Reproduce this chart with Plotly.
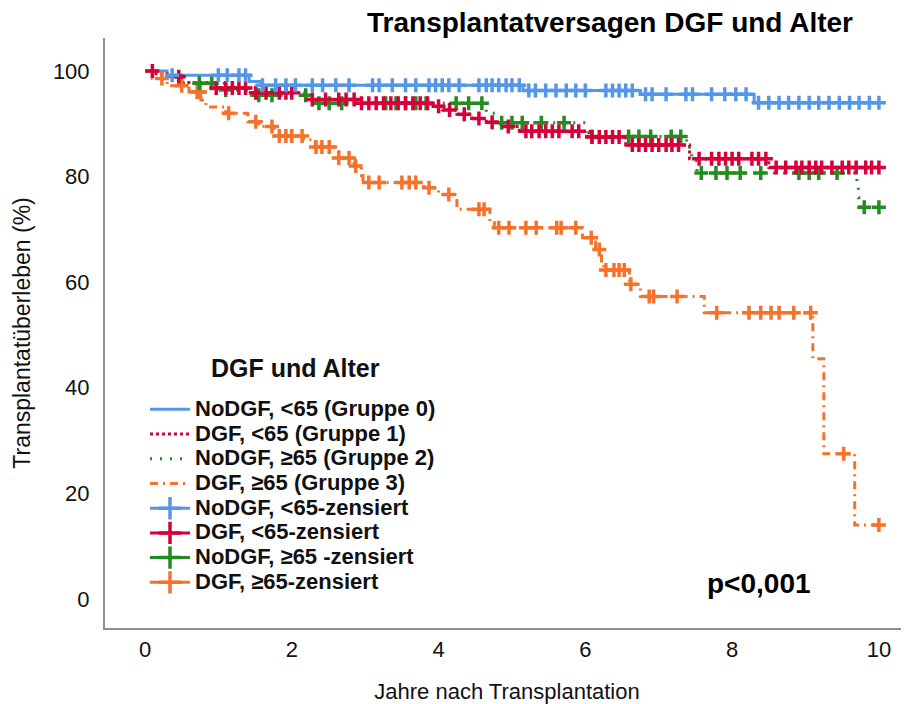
import numpy as np
import plotly.graph_objects as go

# Kaplan-Meier steps: time of event (years) and survival after it (%)
g0_time = [0, 0.3, 1.42, 1.58, 5.15, 6.75, 8.3]
g0_surv = [100, 99.2, 98.0, 97.3, 96.3, 95.6, 94.0]

g1_time = [0, 0.15, 0.3, 0.5, 0.97, 1.42, 2.19, 2.87, 3.9, 4.05, 4.25, 4.45,
           4.65, 4.85, 5.1, 6.05, 6.55, 7.42, 8.5]
g1_surv = [100, 99.5, 98.9, 97.8, 96.8, 95.9, 94.6, 93.9, 93.3, 92.6, 91.8, 91.0,
           90.3, 89.5, 88.6, 87.5, 86.0, 83.4, 81.7]

g2_time = [0, 0.2, 0.5, 1.1, 1.45, 2.33, 4.65, 4.78, 6.0, 7.38, 7.45, 7.52,
           9.7, 9.72, 9.75]
g2_surv = [100, 99.2, 97.7, 96.4, 95.4, 93.9, 92.0, 90.2, 87.6, 85.5, 83.0, 80.7,
           78.5, 76.0, 74.2]

g3_time = [0, 0.1, 0.3, 0.6, 0.76, 0.83, 1.1, 1.4, 1.55, 1.76, 2.16, 2.32, 2.64,
           2.85, 2.95, 2.97, 3.8, 4.0, 4.25, 4.7, 4.76, 5.96, 6.14, 6.22, 6.25,
           6.6, 6.75, 7.62, 9.1, 9.25, 9.67]
g3_surv = [100, 98.6, 97.2, 96.0, 94.5, 93.2, 92.0, 90.4, 89.5, 87.7, 87.0, 85.6, 83.5,
           82.0, 80.2, 78.9, 77.9, 76.6, 73.8, 71.3, 70.3, 68.4, 66.2, 63.4, 62.3,
           59.6, 57.3, 54.2, 45.5, 27.5, 14.0]

# censored observations (years)
g0_cens = [0.37, 1.0, 1.12, 1.28, 1.37, 1.6, 1.78, 1.92, 2.05, 2.28, 2.42, 2.6, 2.78,
           3.1, 3.19, 3.37, 3.55, 3.69, 3.87, 3.96, 4.05, 4.14, 4.28, 4.55, 4.65,
           4.73, 4.82, 4.92, 5.0, 5.1, 5.23, 5.32, 5.46, 5.6, 5.74, 5.87, 6.0, 6.28,
           6.37, 6.46, 6.55, 6.64, 6.82, 6.91, 7.1, 7.37, 7.46, 7.72, 7.9, 8.05,
           8.19, 8.36, 8.5, 8.64, 8.77, 8.91, 9.05, 9.18, 9.32, 9.46, 9.6, 9.73,
           9.87, 10.0]
g1_cens = [0.1, 0.46, 0.97, 1.1, 1.19, 1.28, 1.37, 1.51, 1.65, 1.83, 1.92, 2.0, 2.28,
           2.46, 2.64, 2.74, 2.85, 2.95, 3.05, 3.15, 3.25, 3.35, 3.45, 3.55, 3.65,
           3.75, 3.85, 4.0, 4.15, 4.35, 4.55, 4.73, 4.95, 5.19, 5.27, 5.37, 5.46,
           5.55, 5.64, 5.82, 5.91, 6.09, 6.19, 6.28, 6.37, 6.46, 6.64, 6.73, 6.82,
           6.91, 7.0, 7.1, 7.18, 7.27, 7.55, 7.72, 7.82, 7.91, 8.0, 8.09, 8.27,
           8.36, 8.46, 8.6, 8.73, 8.87, 8.95, 9.05, 9.14, 9.22, 9.36, 9.5, 9.59,
           9.69, 9.82, 9.9, 10.0]
g2_cens = [0.74, 0.91, 1.1, 1.55, 1.73, 2.19, 2.37, 2.51, 2.68, 3.28, 3.42, 3.55, 3.69,
           3.83, 4.24, 4.41, 4.59, 4.86, 5.0, 5.14, 5.4, 5.71, 6.09, 6.59, 6.73,
           6.89, 7.17, 7.3, 7.58, 7.78, 7.93, 8.11, 8.39, 8.91, 9.05, 9.18, 9.43,
           9.8, 10.0]
g3_cens = [0.23, 0.5, 0.71, 0.73, 0.75, 1.14, 1.51, 1.73, 1.83, 1.92, 2.0, 2.14, 2.33,
           2.41, 2.51, 2.64, 2.78, 2.87, 3.05, 3.19, 3.5, 3.6, 3.69, 3.87, 4.14,
           4.55, 4.62, 4.82, 4.96, 5.19, 5.33, 5.61, 5.67, 5.87, 6.08, 6.19, 6.28,
           6.39, 6.46, 6.53, 6.62, 6.87, 6.93, 7.25, 7.79, 8.23, 8.39, 8.53, 8.64,
           8.84, 9.07, 9.52, 10.0]

group_names = ["NoDGF, &lt;65 (Gruppe 0)", "DGF, &lt;65 (Gruppe 1)",
               "NoDGF, ≥65 (Gruppe 2)", "DGF, ≥65 (Gruppe 3)"]
cens_names = ["NoDGF, &lt;65-zensiert", "DGF, &lt;65-zensiert",
              "NoDGF, ≥65 -zensiert", "DGF, ≥65-zensiert"]

colors = ["#5597E6", "#D7003A", "#238B22", "#F4722B"]
dashes = ["solid", "dot", "2px,8px", "8px,5px,2px,5px"]

groups = [(g0_time, g0_surv, g0_cens), (g1_time, g1_surv, g1_cens),
          (g2_time, g2_surv, g2_cens), (g3_time, g3_surv, g3_cens)]


def legend_label(text):
    return '<span style="font-size:22px">' + text + '</span>'


fig = go.Figure()

# step curves
for (t, s, c), name, col, dash in zip(groups, group_names, colors, dashes):
    x = list(t) + [max(c)]
    y = list(s) + [s[-1]]
    fig.add_trace(go.Scatter(
        x=x, y=y, mode="lines", line_shape="hv",
        line=dict(color=col, width=3, dash=dash),
        name=legend_label(name), hoverinfo="skip"
    ))

# censoring marks, drawn on the curve
for (t, s, c), col in reversed(list(zip(groups, colors))):
    idx = np.searchsorted(np.array(t), np.array(c), side="right") - 1
    fig.add_trace(go.Scatter(
        x=c, y=np.array(s)[idx], mode="markers",
        marker=dict(symbol="cross-thin", size=10, line=dict(color=col, width=3.5)),
        showlegend=False
    ))

# legend entries for the censoring marks
for name, col in zip(cens_names, colors):
    fig.add_trace(go.Scatter(
        x=[None], y=[None], mode="lines+markers",
        line=dict(color=col, width=3),
        marker=dict(symbol="cross-thin", size=16, line=dict(color=col, width=3.5)),
        name=legend_label(name)
    ))

# legend heading
fig.add_annotation(
    x=(295 - 105) / 804, y=(628 - 368) / 590, xref="paper", yref="paper",
    text="DGF und Alter", showarrow=False, xanchor="center", yanchor="middle",
    font=dict(family="Liberation Sans", size=25, color="#111111", weight="bold")
)
fig.add_annotation(
    x=8.36, y=3.0, xref="x", yref="y", text="p<0,001", showarrow=False,
    font=dict(family="Liberation Sans", size=28, color="black", weight="bold")
)

# page body adds an 8px offset, so the figure is 8px smaller on each axis
fig.update_layout(
    width=901, height=696,
    margin=dict(l=97, r=0, t=30, b=76),
    paper_bgcolor="white", plot_bgcolor="white",
    font=dict(family="Liberation Sans", color="#111111"),
    title=dict(
        text="Transplantatversagen DGF und Alter",
        x=602 / 901, xref="container", xanchor="center",
        y=1 - 14 / 696, yref="container", yanchor="middle",
        font=dict(size=28, weight="bold", color="black")
    ),
    xaxis=dict(
        range=[-0.545, 10.41], tickvals=[0, 2, 4, 6, 8, 10],
        showgrid=False, zeroline=False, showline=True, automargin=False,
        linecolor="#8f8f8f", linewidth=2, ticks="", ticklabelstandoff=1,
        tickfont=dict(size=22, color="#111111"),
        title=dict(text="Jahre nach Transplantation", standoff=22,
                   font=dict(size=22, color="#111111"))
    ),
    yaxis=dict(
        range=[-5.5, 106.25], tickvals=[0, 20, 40, 60, 80, 100],
        showgrid=False, zeroline=False, showline=True, automargin=False,
        linecolor="#8f8f8f", linewidth=2, ticks="", ticklabelstandoff=9,
        tickfont=dict(size=22, color="#111111"),
        title=dict(text="Transplantatüberleben (%)", standoff=16,
                   font=dict(size=23, color="#111111"))
    ),
    legend=dict(
        x=(145 - 105) / 804, xanchor="left",
        y=(628 - 392) / 590, yanchor="top",
        bgcolor="rgba(0,0,0,0)", itemwidth=40,
        font=dict(family="Liberation Sans", size=16.7, weight="bold", color="#111111"),
    ),
)

fig.write_html("out.html")
